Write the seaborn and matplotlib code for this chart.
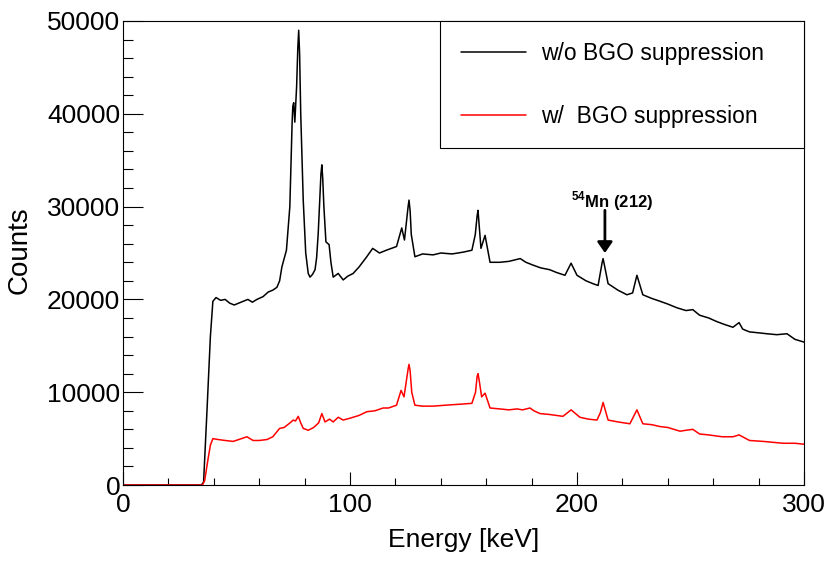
import numpy as np
import pandas as pd
import matplotlib
matplotlib.use('Agg')
import matplotlib.pyplot as plt
import seaborn as sns
from matplotlib.ticker import MultipleLocator

# spectrum without BGO suppression
energy_wo = [0, 34.5, 35.5, 37, 38.5, 39.6, 41, 43, 45, 47, 49, 51, 53, 55, 57, 59,
             61.7, 64, 66, 67.8, 69, 70, 72, 73.5, 74.5, 74.8, 75.2, 75.7, 76.5, 77.0,
             77.4, 77.8, 78.3, 79.4, 80.5, 81.6, 82.4, 83.5, 84.6, 85.3, 86, 87.2,
             87.6, 88.0, 88.5, 89.4, 90.8, 91.6, 92.6, 94.8, 97, 99, 101.4, 104,
             107.4, 110, 113, 116, 120.5, 122.8, 124, 125.6, 126, 126.5, 127, 128.6,
             132, 136.6, 140, 145, 150, 153.7, 155.2, 156.0, 156.4, 156.9, 157.7,
             159.5, 161.7, 166, 170, 175, 177.5, 180.6, 184, 188, 191, 194.7, 197.4,
             200, 204, 207, 209.3, 211.1, 211.5, 212.0, 213.7, 218, 222, 224.5,
             226.4, 229, 233, 236.6, 240, 244, 248, 251, 254, 258, 261.7, 265,
             268.7, 271.4, 273, 276, 280, 283.7, 288, 292.5, 296, 300]
counts_wo = [0, 0, 300, 8000, 16000, 19800, 20200, 19900, 20000, 19600, 19400, 19600,
             19800, 20000, 19700, 20000, 20300, 20800, 21000, 21300, 22000, 23500,
             25300, 30000, 39000, 40800, 41200, 39100, 43000, 47000, 49000, 46500,
             40000, 30700, 25000, 22800, 22400, 22700, 23200, 24500, 27100, 33500,
             34500, 33000, 30000, 26200, 25900, 24000, 22400, 22800, 22100, 22500,
             22800, 23500, 24600, 25500, 25000, 25300, 25700, 27700, 26400, 30000,
             30700, 29500, 27000, 24600, 24900, 24800, 25000, 24900, 25100, 25300,
             27000, 29000, 29600, 28000, 25500, 26900, 24000, 24000, 24100, 24400,
             24000, 23700, 23400, 23200, 22900, 22600, 23900, 22600, 22000, 21700,
             21500, 24000, 24400, 23800, 21700, 21000, 20500, 20700, 22600, 20500,
             20100, 19800, 19500, 19100, 18800, 18900, 18300, 18000, 17600, 17300,
             17000, 17500, 16800, 16500, 16400, 16300, 16200, 16300, 15700, 15400]

# spectrum with BGO suppression
energy_w = [0, 35, 36, 37.4, 38.5, 39.6, 42, 45, 48.5, 51, 54.6, 57.3, 60, 63.4, 66,
            69, 71, 73.6, 75, 76, 77.2, 78.3, 79.4, 81.6, 84, 86.2, 87.6, 89, 91,
            92.6, 94.8, 97, 100, 104, 107.4, 111, 114.6, 117, 120.5, 122.5, 123.8,
            125.6, 126, 126.5, 127.2, 128.6, 132, 136.6, 142, 148, 153.7, 155.3,
            156.0, 156.4, 156.9, 158, 159.5, 161.7, 166, 170, 173.6, 176, 179.3,
            181, 183.7, 188, 193.8, 197.4, 201.3, 205, 208.8, 210.3, 211.5, 213.7,
            218, 223.3, 226.4, 229, 233, 236.6, 240, 245.4, 248, 251, 254, 258,
            264, 268.7, 271.4, 276, 282, 290.8, 296, 300]
counts_w = [0, 0, 500, 2700, 4300, 5000, 4900, 4800, 4700, 4900, 5200, 4800, 4800,
            4900, 5200, 6100, 6200, 6700, 7000, 6900, 7400, 6700, 6100, 5900, 6200,
            6700, 7700, 6800, 7100, 6800, 7300, 7000, 7200, 7500, 7900, 8000, 8300,
            8300, 8600, 10200, 9500, 12500, 13000, 12300, 10000, 8600, 8500, 8500,
            8600, 8700, 8800, 10000, 11700, 12000, 11300, 9500, 9900, 8300, 8200,
            8100, 8200, 8100, 8300, 8000, 7700, 7600, 7400, 8100, 7300, 7100, 7000,
            7800, 8900, 7000, 6800, 6600, 8100, 6600, 6500, 6300, 6200, 5800, 5900,
            6000, 5500, 5400, 5200, 5200, 5400, 4800, 4700, 4500, 4500, 4400]

df = pd.concat([
    pd.DataFrame({'energy': energy_wo, 'counts': counts_wo, 'set': 'w/o BGO suppression'}),
    pd.DataFrame({'energy': energy_w, 'counts': counts_w, 'set': 'w/  BGO suppression'}),
])

sns.set_style('ticks')
plt.rcParams['font.family'] = ['Liberation Sans', 'DejaVu Sans']
plt.rcParams['mathtext.fontset'] = 'custom'
plt.rcParams['mathtext.rm'] = 'Liberation Sans'
plt.rcParams['mathtext.bf'] = 'Liberation Sans:bold'
plt.rcParams['text.color'] = 'black'
plt.rcParams['axes.labelcolor'] = 'black'
plt.rcParams['xtick.color'] = 'black'
plt.rcParams['ytick.color'] = 'black'

fig = plt.figure(figsize=(8.31, 5.63), dpi=100)
ax = fig.add_axes([0.148, 0.1385, 0.8195, 0.8242])

sns.lineplot(data=df, x='energy', y='counts', hue='set',
             palette={'w/o BGO suppression': 'black', 'w/  BGO suppression': 'red'},
             sort=False, linewidth=1.1, ax=ax)

ax.set_xlim(0, 300)
ax.set_ylim(0, 50000)
ax.xaxis.set_major_locator(MultipleLocator(100))
ax.xaxis.set_minor_locator(MultipleLocator(20))
ax.yaxis.set_major_locator(MultipleLocator(10000))
ax.yaxis.set_minor_locator(MultipleLocator(2000))
ax.tick_params(axis='both', which='both', direction='in', top=False, right=False,
               labelsize=19, color='black', labelcolor='black', width=0.8)
ax.tick_params(axis='y', which='major', length=14.4, pad=2)
ax.tick_params(axis='y', which='minor', length=7.2)
ax.tick_params(axis='x', which='major', length=9.6, pad=6)
ax.tick_params(axis='x', which='minor', length=4.8)
for s in ax.spines.values():
    s.set_linewidth(0.8)
    s.set_color('black')

ax.set_xlabel('Energy [keV]', fontsize=19, color='black')
ax.set_ylabel('Counts', fontsize=20, color='black')
ax.xaxis.set_label_coords(0.5, -0.093)
ax.yaxis.set_label_coords(-0.132, 0.506)

leg = ax.legend(loc='upper left', bbox_to_anchor=(0.4655, 1.0, 0.5345, 0), mode='expand',
                borderaxespad=0, frameon=True, fancybox=False, edgecolor='black',
                framealpha=1, fontsize=16.5, labelspacing=1.75, borderpad=0.9,
                handlelength=2.85, handletextpad=0.65, title=None)
leg.get_frame().set_linewidth(0.8)
for t in leg.get_texts():
    t.set_color('black')

# 54Mn marker
ax.annotate('', xy=(212.3, 25000), xytext=(212.3, 29600),
            arrowprops=dict(arrowstyle='-|>,head_width=0.45,head_length=0.65',
                            lw=2, color='black', shrinkA=0, shrinkB=0))
ax.text(215.4, 29900, r'$^{\mathbf{54}}$Mn (212)', ha='center', va='baseline',
        fontsize=12, fontweight='bold', color='black')

plt.savefig('out.png', dpi=100)
